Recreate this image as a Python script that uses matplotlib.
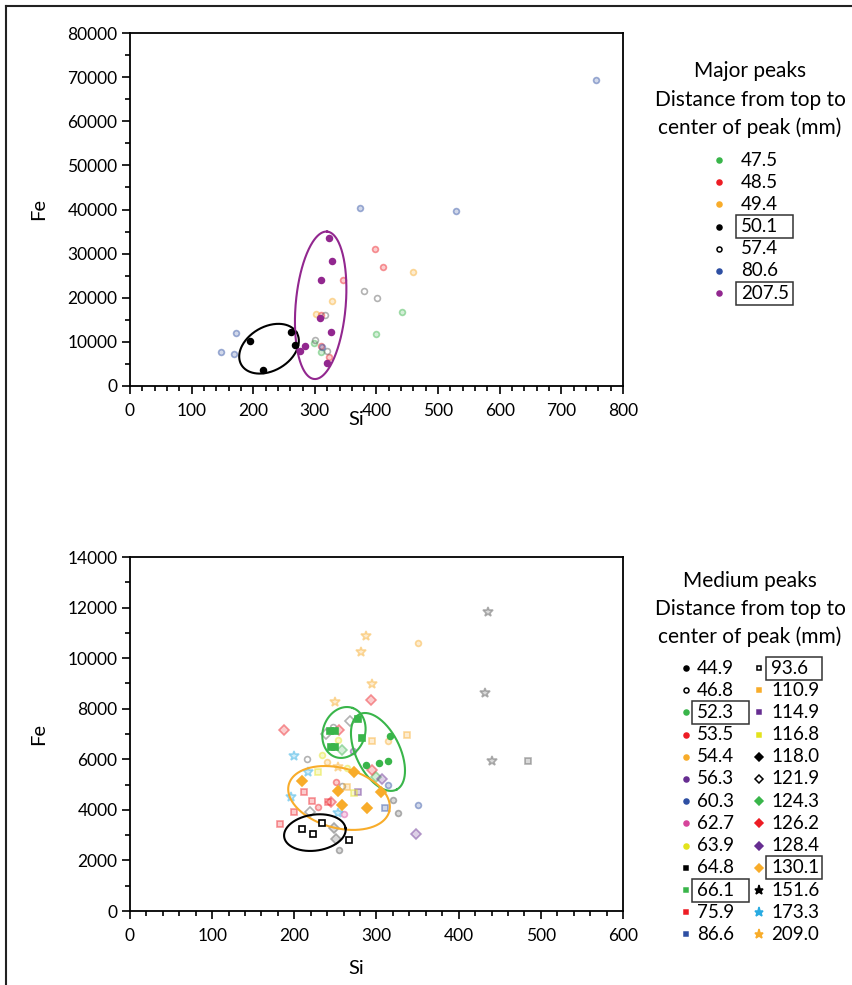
import numpy as np
import matplotlib.pyplot as plt
from matplotlib.patches import Rectangle
from matplotlib.colors import to_rgb

plt.rcParams['font.family'] = ['Lato', 'DejaVu Sans']

GREEN = '#39b54a'
RED = '#ed1c24'
ORANGE = '#f8ac2a'
BLUE = '#2e4fa3'
PURPLE = '#92278f'
VIOLET = '#662d91'
PINK = '#d6449b'
YELLOW = '#e3e31c'
CYAN = '#29abe2'
BLACK = '#000000'

# ---------------- Major peaks (top) ----------------
major_labels = ['47.5', '48.5', '49.4', '50.1', '57.4', '80.6', '207.5']
major_colors = [GREEN, RED, ORANGE, BLACK, BLACK, BLUE, PURPLE]
major_open = [False, False, False, False, True, False, False]
major_faded = [True, True, True, False, True, True, False]
major_boxed = ['50.1', '207.5']

maj_si = {
    '47.5': [442, 399, 298, 310],
    '48.5': [398, 410, 345, 310, 323, 310],
    '49.4': [459, 327, 302],
    '50.1': [195, 262, 268, 216],
    '57.4': [379, 401, 316, 301, 320],
    '80.6': [374, 529, 172, 147, 168, 312, 756],
    '207.5': [323, 327, 310, 326, 308, 284, 276, 319],
}
maj_fe = {
    '47.5': [16800, 11700, 9800, 7700],
    '48.5': [31100, 26900, 24000, 9100, 6600, 16100],
    '49.4': [25800, 19300, 16300],
    '50.1': [10100, 12200, 9200, 3700],
    '57.4': [21500, 19900, 16000, 10400, 7900],
    '80.6': [40300, 39700, 11900, 7600, 7300, 8800, 69300],
    '207.5': [33500, 28400, 24000, 12200, 15400, 9100, 7900, 5300],
}
# ellipses: centre (Si, Fe), semi axes in px, angle
maj_rings = [(225.6, 8450, 32, 22, 30, BLACK), (309.4, 18290, 74, 25, 85, PURPLE)]

# ---------------- Medium peaks (bottom) ----------------
med_labels = ['44.9', '46.8', '52.3', '53.5', '54.4', '56.3', '60.3', '62.7', '63.9',
              '64.8', '66.1', '75.9', '86.6', '93.6', '110.9', '114.9', '116.8', '118.0',
              '121.9', '124.3', '126.2', '128.4', '130.1', '151.6', '173.3', '209.0']
med_colors = [BLACK, BLACK, GREEN, RED, ORANGE, VIOLET, BLUE, PINK, YELLOW,
              BLACK, GREEN, RED, BLUE, BLACK, ORANGE, VIOLET, YELLOW, BLACK,
              BLACK, GREEN, RED, VIOLET, ORANGE, BLACK, CYAN, ORANGE]
med_markers = ['o', 'o', 'o', 'o', 'o', 'o', 'o', 'o', 'o',
               's', 's', 's', 's', 's', 's', 's', 's', 'D',
               'D', 'D', 'D', 'D', 'D', '*', '*', '*']
med_open = ['46.8', '93.6', '121.9']
med_boxed = ['52.3', '66.1', '93.6', '130.1']

med_si = {
    '44.9': [320, 326, 254],
    '46.8': [247, 216, 258],
    '52.3': [317, 303, 314, 287],
    '53.5': [251, 229],
    '54.4': [350, 240, 314],
    '56.3': [271],
    '60.3': [314, 350],
    '62.7': [260],
    '63.9': [253, 234, 264],
    '64.8': [484],
    '66.1': [243, 250, 245, 250, 277, 282],
    '75.9': [212, 222, 199, 182, 241],
    '86.6': [310],
    '93.6': [209, 223, 234, 266],
    '110.9': [337, 294, 264],
    '114.9': [278],
    '116.8': [229, 273],
    '118.0': [248, 251],
    '121.9': [238, 268, 219],
    '124.3': [258, 300],
    '126.2': [188, 254, 245, 294, 293],
    '128.4': [348, 307],
    '130.1': [209, 253, 273, 258, 289, 306],
    '151.6': [436, 432, 440],
    '173.3': [200, 217, 196, 253],
    '209.0': [287, 281, 295, 249, 253],
}
med_fe = {
    '44.9': [4390, 3890, 2410],
    '46.8': [7260, 6030, 4950],
    '52.3': [6920, 5840, 5930, 5780],
    '53.5': [5090, 4120],
    '54.4': [10600, 5900, 6710],
    '56.3': [6340],
    '60.3': [4980, 4190],
    '62.7': [3850],
    '63.9': [6760, 6170, 5640],
    '64.8': [5940],
    '66.1': [7100, 7100, 6470, 6500, 7590, 6850],
    '75.9': [4720, 4360, 3900, 3440, 4320],
    '86.6': [4060],
    '93.6': [3240, 3045, 3480, 2810],
    '110.9': [6960, 6710, 4920],
    '114.9': [4720],
    '116.8': [5510, 4650],
    '118.0': [3280, 2850],
    '121.9': [7000, 7510, 3900],
    '124.3': [6370, 5310],
    '126.2': [7160, 7170, 4320, 5580, 8340],
    '128.4': [3040, 5230],
    '130.1': [5140, 4760, 5480, 4190, 4060, 4720],
    '151.6': [11840, 8630, 5920],
    '173.3': [6130, 5510, 4490, 3890],
    '209.0': [10890, 10260, 8960, 8250, 5700],
}
med_rings = [(260.4, 7060, 26, 21, 70, GREEN), (301.8, 6290, 42, 22, -64, GREEN),
             (254.4, 4470, 52, 30, -15, ORANGE), (225.0, 3100, 31, 18, 8, BLACK)]

W, H = 853, 985
fig = plt.figure(figsize=(W / 100, H / 100), dpi=100)

# overlay axes in pixel units for frame and legends
lg = fig.add_axes([0, 0, 1, 1])
lg.set_xlim(0, W)
lg.set_ylim(H, 0)
lg.axis('off')
lg.plot([6, 6], [985, 6], color='#222222', lw=1.5)
lg.plot([6, 853], [6, 6], color='#222222', lw=1.5)


def px_axes(left, top, right, bottom):
    return fig.add_axes([left / W, 1 - bottom / H, (right - left) / W, (bottom - top) / H])


def style(ax, xmax, xmaj, ymax, ymaj):
    ax.set_xlim(0, xmax)
    ax.set_ylim(0, ymax)
    ax.set_xticks(np.arange(0, xmax + 1, xmaj))
    ax.set_xticks(np.arange(0, xmax + 1, xmaj / 5), minor=True)
    ax.set_yticks(np.arange(0, ymax + 1, ymaj))
    ax.set_yticks(np.arange(0, ymax + 1, ymaj / 2), minor=True)
    ax.tick_params(which='both', direction='out', width=1.2, top=False, right=False)
    ax.tick_params(which='major', length=6, pad=3, labelsize=12.5)
    ax.tick_params(axis='x', which='major', pad=6)
    ax.tick_params(which='minor', length=3.5)
    for s in ax.spines.values():
        s.set_linewidth(1.3)
    ax.patch.set_alpha(0)


def ring(ax, cx, cy, a, b, ang, color):
    t = np.linspace(0, 2 * np.pi, 300)
    th = np.radians(ang)
    dx = a * np.cos(t) * np.cos(th) - b * np.sin(t) * np.sin(th)
    dy = a * np.cos(t) * np.sin(th) + b * np.sin(t) * np.cos(th)
    x0, y0 = ax.transData.transform((cx, cy))
    pts = ax.transData.inverted().transform(np.column_stack([x0 + dx, y0 + dy]))
    ax.plot(pts[:, 0], pts[:, 1], color=color, lw=1.5, zorder=4)


def draw_points(ax, x, y, color, marker, ms, is_open, faded, z):
    if faded:
        if color == BLACK:
            color = '#555555'
        ec = (*to_rgb(color), 0.45)
        fc = (1, 1, 1, 0) if is_open else (*to_rgb(color), 0.22)
        ax.plot(x, y, ls='none', marker=marker, ms=ms, mfc=fc, mec=ec, mew=1.2, zorder=z)
    else:
        fc = 'white' if is_open else color
        ax.plot(x, y, ls='none', marker=marker, ms=ms, mfc=fc, mec=color, mew=1.2, zorder=z)


# ---- top axes ----
ax1 = px_axes(130, 33, 623, 386)
style(ax1, 800, 100, 80000, 10000)
for lab, col, op, fd in zip(major_labels, major_colors, major_open, major_faded):
    draw_points(ax1, maj_si[lab], maj_fe[lab], col, 'o', 4.2, op, fd, 3 if fd else 5)
for r in maj_rings:
    ring(ax1, *r)
ax1.text(-0.185, 0.5, 'Fe', transform=ax1.transAxes, rotation=90, fontsize=14.5,
         ha='center', va='center')
ax1.text(0.458, -0.095, 'Si', transform=ax1.transAxes, fontsize=14.5, ha='center', va='center')

# ---- bottom axes ----
ax2 = px_axes(130, 557, 623, 911)
style(ax2, 600, 100, 14000, 2000)
size_of = {'o': 4.2, 's': 3.9, 'D': 5.0, '*': 7.5}
for lab, col, mk in zip(med_labels, med_colors, med_markers):
    fd = lab not in med_boxed
    draw_points(ax2, med_si[lab], med_fe[lab], col, mk, size_of[mk], lab in med_open, fd,
                3 if fd else 5)
for r in med_rings:
    ring(ax2, *r)
ax2.text(-0.185, 0.5, 'Fe', transform=ax2.transAxes, rotation=90, fontsize=14.5,
         ha='center', va='center')
ax2.text(0.458, -0.163, 'Si', transform=ax2.transAxes, fontsize=14.5, ha='center', va='center')

# ---- legends ----
FS = 13.5


def legend_entry(x_mk, x_tx, y, lab, color, marker, ms, is_open, boxed, bw):
    lg.plot([x_mk], [y], marker=marker, ms=ms, mfc='white' if is_open else color,
            mec=color, mew=1.1, ls='none')
    lg.text(x_tx, y, lab, fontsize=FS, ha='left', va='center')
    if boxed:
        lg.add_patch(Rectangle((x_tx - 5, y - 11.5), bw, 23, fill=False, ec='#333333', lw=1.1))


for i, t in enumerate(['Major peaks', 'Distance from top to', 'center of peak (mm)']):
    lg.text(750, 71 + i * 28.5, t, fontsize=15, ha='center', va='center')
for i, lab in enumerate(major_labels):
    legend_entry(719, 741, 160 + i * 22.2, lab, major_colors[i], 'o', 3.6,
                 major_open[i], lab in major_boxed, 57)

for i, t in enumerate(['Medium peaks', 'Distance from top to', 'center of peak (mm)']):
    lg.text(750, 581 + i * 27.7, t, fontsize=15, ha='center', va='center')
leg_size = {'o': 3.6, 's': 3.3, 'D': 4.4, '*': 6.5}
for i, lab in enumerate(med_labels):
    col_i, row = divmod(i, 13)
    x_mk = 686 if col_i == 0 else 759
    x_tx = 697 if col_i == 0 else 771
    legend_entry(x_mk, x_tx, 668 + row * 22.2, lab, med_colors[i], med_markers[i],
                 leg_size[med_markers[i]], lab in med_open, lab in med_boxed,
                 57 if col_i == 0 else 56)

fig.savefig('out.png', dpi=100)
